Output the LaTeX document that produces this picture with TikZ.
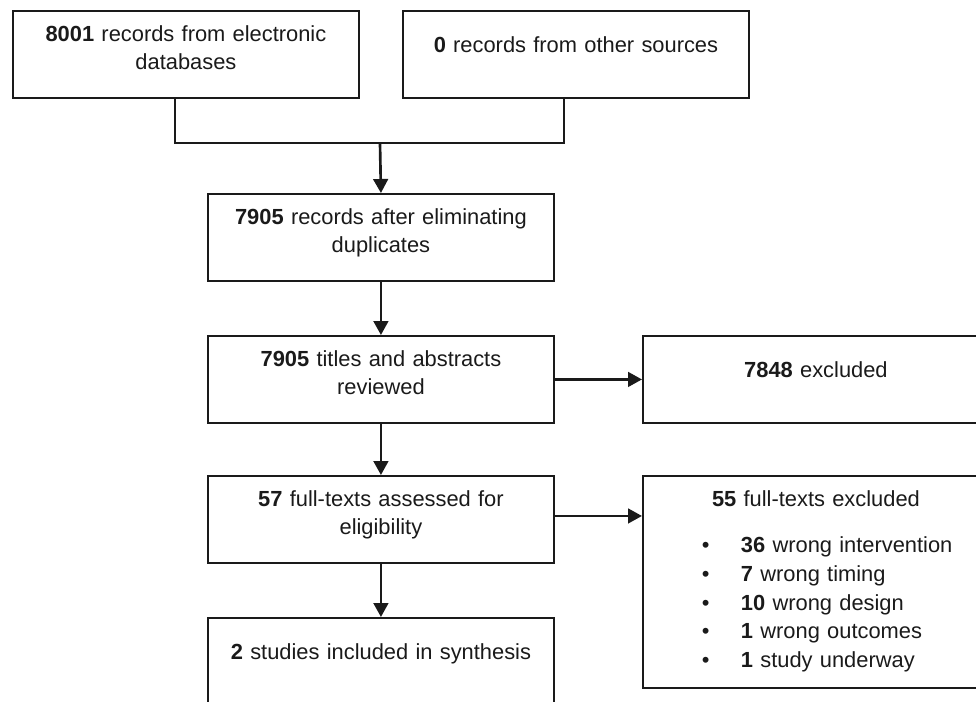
\documentclass[tikz,border=0pt]{standalone}
\usepackage{fontspec}
\setmainfont{Liberation Sans}
\usetikzlibrary{arrows.meta}
\definecolor{inkblack}{HTML}{1A1A1A}
\newcommand{\exitem}[2]{\makebox[\linewidth][l]{\hspace*{44.25pt}\makebox[29.25pt][l]{\textbullet}\textbf{#1} #2}}

\begin{document}
\begin{tikzpicture}[x=0.75pt,y=-0.75pt,font=\fontsize{16.4}{20.5}\selectfont,
  box/.style={draw=inkblack,line width=1.4pt,inner sep=0pt,anchor=north west,
              text width=259.5pt,align=center,text=inkblack},
  twoline/.style={box,text height=23.25pt,text depth=42pt},
  oneline/.style={box,text height=31.5pt,text depth=33.75pt},
  link/.style={draw=inkblack,line width=2pt},
  flow/.style={link,-{Triangle[length=10.5pt,width=11pt]}}]
  \useasboundingbox (0,0) rectangle (976,701);
  \clip (0,0) rectangle (976,701);
  % sources
  \node[twoline] (src1) at (12,10) {\textbf{8001} records from electronic\\databases};
  \node[oneline] (src2) at (402,10) {\textbf{0} records from other sources};
  % main column
  \node[twoline] (dedup) at (207,193) {\textbf{7905} records after eliminating\\duplicates};
  \node[twoline] (screen) at (207,335) {\textbf{7905} titles and abstracts\\reviewed};
  \node[twoline] (full) at (207,475) {\textbf{57} full-texts assessed for\\eligibility};
  \node[oneline] (incl) at (207,617) {\textbf{2} studies included in synthesis};
  % exclusions
  \node[oneline] (excl) at (642,335) {\textbf{7848} excluded};
  \node[box,text height=23.25pt,text depth=135.75pt] (ftx) at (642,475)
    {\textbf{55} full-texts excluded\\[14pt]
     \exitem{36}{wrong intervention}\\[1pt]
     \exitem{7}{wrong timing}\\[1pt]
     \exitem{10}{wrong design}\\[1pt]
     \exitem{1}{wrong outcomes}\\[1pt]
     \exitem{1}{study underway}};
  \coordinate (join) at (380,143);
  \draw[link] ([xshift=-8.25pt]src1.south) |- (join) -| ([xshift=-9pt]src2.south);
  \draw[flow] (join) -- (dedup.north);
  \draw[flow] (dedup.south) -- (screen.north);
  \draw[flow] (screen.south) -- (full.north);
  \draw[flow] (full.south) -- (incl.north);
  \draw[flow] (screen.east) -- (excl.west);
  \draw[flow] ([yshift=2.6pt]full.east) -- ([yshift=2.6pt]full.east -| ftx.west);
\end{tikzpicture}
\end{document}
